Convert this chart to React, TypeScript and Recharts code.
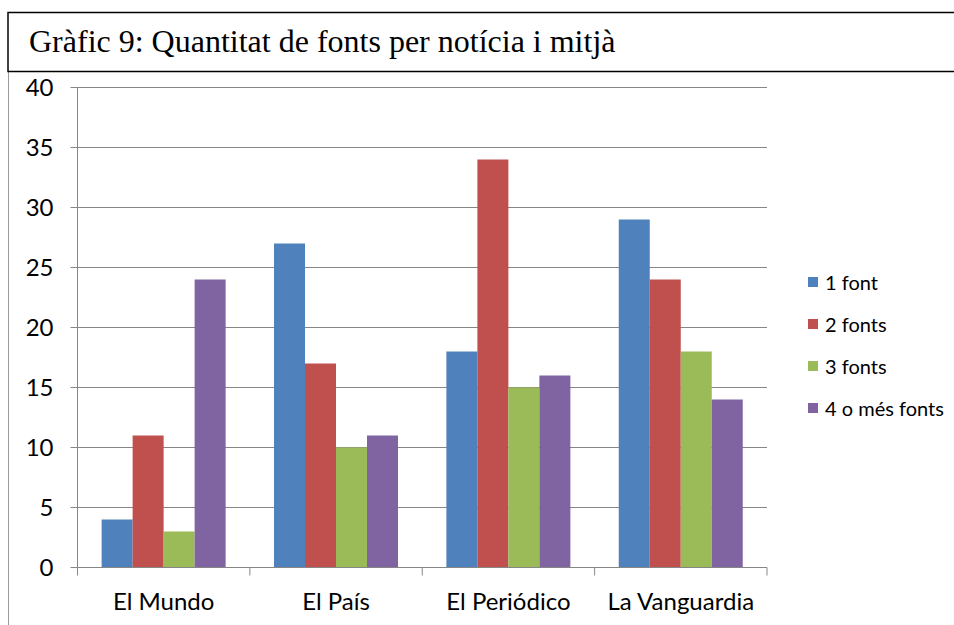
import React from 'react';
import { BarChart, Bar, XAxis, YAxis, CartesianGrid, Legend } from 'recharts';

const title = 'Gràfic 9: Quantitat de fonts per notícia i mitjà';
const categories = ['El Mundo', 'El País', 'El Periódico', 'La Vanguardia'];
const seriesNames = ['1 font', '2 fonts', '3 fonts', '4 o més fonts'];
const oneSource = [4, 27, 18, 29];
const twoSources = [11, 17, 34, 24];
const threeSources = [3, 10, 15, 18];
const fourPlusSources = [24, 11, 16, 14];
const seriesColors = ['#4F81BD', '#C0504D', '#9BBB59', '#8064A2'];
const yTicks = [0, 5, 10, 15, 20, 25, 30, 35, 40];

const data = categories.map((name, i) => ({
  name,
  s1: oneSource[i],
  s2: twoSources[i],
  s3: threeSources[i],
  s4: fourPlusSources[i],
}));
const keys = ['s1', 's2', 's3', 's4'];

const W = 954;
const H = 625;
const MARGIN = { top: 87.5, right: 187, bottom: 0, left: 0 };
const Y_AXIS_W = 77.5;
const X_AXIS_H = 57.5;
const BAND = (W - MARGIN.left - MARGIN.right - Y_AXIS_W) / categories.length;
const GRID = '#868686';
const AXIS_FONT = 'Lato, "Open Sans", sans-serif';

function XTick(props: any) {
  const { x, y, payload, index, visibleTicksCount } = props;
  const half = BAND / 2;
  return (
    <g>
      <line x1={x - half} x2={x - half} y1={y} y2={y + 8} stroke={GRID} strokeWidth={1} />
      {index === visibleTicksCount - 1 && (
        <line x1={x + half} x2={x + half} y1={y} y2={y + 8} stroke={GRID} strokeWidth={1} />
      )}
      <text x={x} y={y + 42} textAnchor="middle" fontFamily={AXIS_FONT} fontSize={24} fill="#000">
        {payload.value}
      </text>
    </g>
  );
}

function LegendContent(props: any) {
  const items = props.payload || [];
  return (
    <div style={{ fontFamily: AXIS_FONT, fontSize: 20, color: '#000' }}>
      {items.map((it: any) => (
        <div key={it.value} style={{ height: 42, display: 'flex', alignItems: 'center', whiteSpace: 'nowrap' }}>
          <span style={{ display: 'inline-block', width: 10, height: 10, background: it.color, marginRight: 7 }} />
          <span>{it.value}</span>
        </div>
      ))}
    </div>
  );
}

export default function App() {
  return (
    <div style={{ position: 'absolute', left: 0, top: 0, width: W, height: H, background: '#fff', overflow: 'hidden' }}>
      <svg width={W} height={H} style={{ position: 'absolute', left: 0, top: 0 }}>
        <line x1={8.5} x2={8.5} y1={72} y2={H} stroke="#9a9a9a" strokeWidth={1} />
        <rect x={8} y={12.5} width={W + 20} height={59} fill="#fff" stroke="#000" strokeWidth={1.5} />
        <text x={29} y={52} fontFamily='"Liberation Serif", "Times New Roman", serif' fontSize={32} fill="#000">
          {title}
        </text>
      </svg>
      <div style={{ position: 'absolute', left: 0, top: 0 }}>
        <BarChart width={W} height={H} data={data} margin={MARGIN} barCategoryGap="14%" barGap={0}>
          <CartesianGrid vertical={false} stroke={GRID} strokeWidth={1} />
          <XAxis
            dataKey="name"
            height={X_AXIS_H}
            interval={0}
            tickLine={false}
            tickSize={0}
            tickMargin={0}
            axisLine={{ stroke: GRID, strokeWidth: 1 }}
            tick={<XTick />}
          />
          <YAxis
            width={Y_AXIS_W}
            domain={[0, 40]}
            ticks={yTicks}
            interval={0}
            tickSize={7}
            tickMargin={17}
            axisLine={{ stroke: GRID, strokeWidth: 1 }}
            tickLine={{ stroke: GRID, strokeWidth: 1 }}
            tick={{ fontFamily: AXIS_FONT, fontSize: 24, fill: '#000' }}
          />
          <Legend
            layout="vertical"
            align="center"
            verticalAlign="middle"
            wrapperStyle={{ left: 808, top: 261, width: 146, height: 168 }}
            content={<LegendContent />}
          />
          {keys.map((k, i) => (
            <Bar key={k} dataKey={k} name={seriesNames[i]} fill={seriesColors[i]} isAnimationActive={false} />
          ))}
        </BarChart>
      </div>
    </div>
  );
}
